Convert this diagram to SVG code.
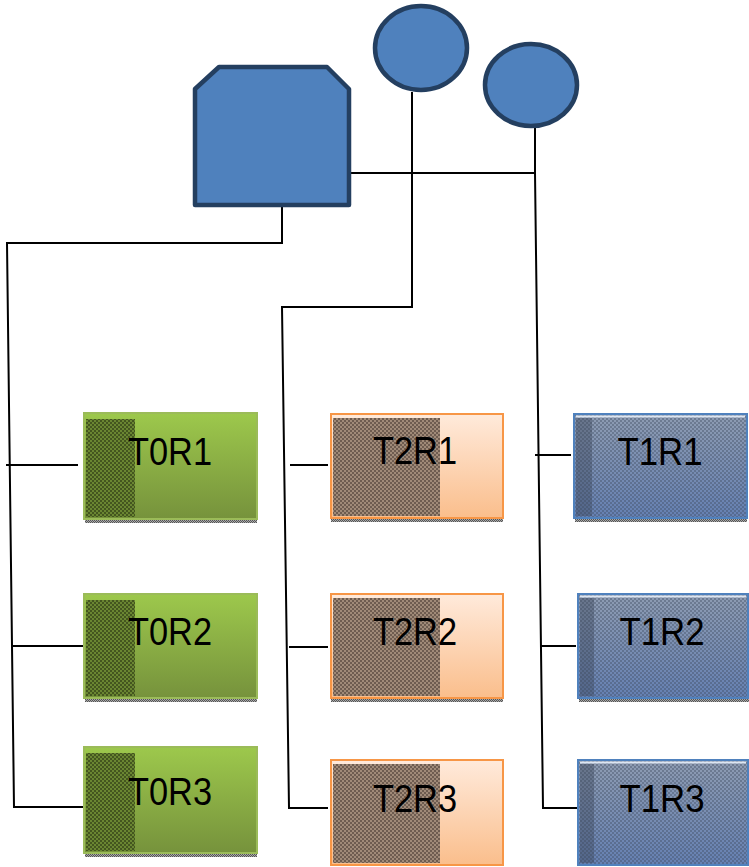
<svg xmlns="http://www.w3.org/2000/svg" width="749" height="867" viewBox="0 0 749 867">
<defs>
<style>
.ln{fill:none;stroke:#000;stroke-width:2}
.lbl{font-family:"Liberation Sans",Arial,sans-serif;font-size:38px;fill:#000;text-anchor:middle}
.g{fill:url(#gGreen);stroke:#9BBB59;stroke-width:2}
.o{fill:url(#gOrange);stroke:#F79646;stroke-width:2}
.shadow{fill:url(#pGrey)}
</style>
<linearGradient id="gGreen" x1="0" y1="0" x2="0" y2="1"><stop offset="0" stop-color="#9DC84C"/><stop offset="1" stop-color="#76923C"/></linearGradient>
<linearGradient id="gOrange" x1="0" y1="0" x2="0" y2="1"><stop offset="0" stop-color="#FFEADB"/><stop offset="1" stop-color="#FABE8C"/></linearGradient>
<linearGradient id="gBlue" x1="0" y1="0" x2="0" y2="1"><stop offset="0" stop-color="#8E9CB2"/><stop offset="1" stop-color="#6580B2"/></linearGradient>
<pattern id="pGreenStrip" width="4" height="4" patternUnits="userSpaceOnUse"><rect width="4" height="4" fill="#6A8632"/><rect width="2" height="2" fill="#44561F"/><rect x="2" y="2" width="2" height="2" fill="#44561F"/></pattern>
<pattern id="pOrangeStrip" width="4" height="4" patternUnits="userSpaceOnUse"><rect width="4" height="4" fill="#A08A78"/><rect width="2" height="2" fill="#6E5C50"/><rect x="2" y="2" width="2" height="2" fill="#6E5C50"/></pattern>
<pattern id="pBlueDots" width="4" height="4" patternUnits="userSpaceOnUse"><rect width="2" height="2" fill="#3E4A5E" fill-opacity="0.4"/><rect x="2" y="2" width="2" height="2" fill="#3E4A5E" fill-opacity="0.4"/></pattern>
<pattern id="pGrey" width="2" height="2" patternUnits="userSpaceOnUse"><rect width="2" height="2" fill="#AAAAAA"/><rect width="1" height="1" fill="#555"/><rect x="1" y="1" width="1" height="1" fill="#555"/></pattern>
</defs>

<g id="connectors">
<polyline class="ln" points="282,207 282,243 7,243 14,807 84,807"/>
<line class="ln" x1="6" y1="465" x2="78" y2="465"/>
<line class="ln" x1="13" y1="646" x2="84" y2="646"/>
<polyline class="ln" points="412,92 412,307 282,307 289,808 328,808"/>
<line class="ln" x1="290" y1="465" x2="328" y2="465"/>
<line class="ln" x1="289" y1="647" x2="328" y2="647"/>
<line class="ln" x1="351" y1="173" x2="536" y2="173"/>
<polyline class="ln" points="535,127 535,173 543,808 578,808"/>
<line class="ln" x1="535" y1="455" x2="571" y2="455"/>
<line class="ln" x1="541" y1="646" x2="576" y2="646"/>
</g>

<g id="server">
<path d="M219,67 L327,67 L349,89 L349,205 L195,205 L195,89 Z" fill="#4F81BD" stroke="#243F60" stroke-width="4.5" stroke-linejoin="round"/>
</g>
<g id="circle1">
<ellipse cx="421" cy="48" rx="46" ry="42" fill="#4F81BD" stroke="#243F60" stroke-width="4.5"/>
</g>
<g id="circle2">
<ellipse cx="531" cy="85" rx="46" ry="41" fill="#4F81BD" stroke="#243F60" stroke-width="4.5"/>
</g>

<g id="T0R1">
<rect class="shadow" x="85" y="519" width="172" height="4"/>
<rect class="g" x="84" y="413" width="173" height="106"/>
<rect x="86" y="419" width="49" height="98" fill="url(#pGreenStrip)"/>
<text class="lbl" x="170" y="465" textLength="84" lengthAdjust="spacingAndGlyphs">T0R1</text>
</g>
<g id="T0R2">
<rect class="shadow" x="85" y="698" width="172" height="4"/>
<rect class="g" x="84" y="594" width="173" height="104"/>
<rect x="86" y="600" width="49" height="96" fill="url(#pGreenStrip)"/>
<text class="lbl" x="170" y="645" textLength="84" lengthAdjust="spacingAndGlyphs">T0R2</text>
</g>
<g id="T0R3">
<rect class="shadow" x="85" y="853" width="172" height="4"/>
<rect class="g" x="84" y="747" width="173" height="106"/>
<rect x="86" y="753" width="49" height="98" fill="url(#pGreenStrip)"/>
<text class="lbl" x="170" y="805" textLength="84" lengthAdjust="spacingAndGlyphs">T0R3</text>
</g>

<g id="T2R1">
<rect class="shadow" x="331" y="518" width="172" height="4"/>
<rect class="o" x="331" y="414" width="172" height="104"/>
<rect x="333" y="418" width="107" height="98" fill="url(#pOrangeStrip)"/>
<text class="lbl" x="415" y="464" textLength="84" lengthAdjust="spacingAndGlyphs">T2R1</text>
</g>
<g id="T2R2">
<rect class="shadow" x="331" y="698" width="172" height="4"/>
<rect class="o" x="331" y="594" width="172" height="104"/>
<rect x="333" y="598" width="107" height="98" fill="url(#pOrangeStrip)"/>
<text class="lbl" x="415" y="645" textLength="84" lengthAdjust="spacingAndGlyphs">T2R2</text>
</g>
<g id="T2R3">
<rect class="o" x="331" y="760" width="172" height="105"/>
<rect x="333" y="764" width="107" height="99" fill="url(#pOrangeStrip)"/>
<text class="lbl" x="415" y="812" textLength="84" lengthAdjust="spacingAndGlyphs">T2R3</text>
</g>

<g id="T1R1">
<rect class="shadow" x="575" y="518" width="172" height="4"/>
<rect x="574" y="414" width="173" height="104" fill="url(#gBlue)" stroke="#4F81BD" stroke-width="2"/>
<rect x="575" y="415" width="171" height="102" fill="url(#pBlueDots)"/>
<rect x="576" y="418" width="16" height="98" fill="#3E4A5E" fill-opacity="0.45"/>
<line x1="576" y1="416.5" x2="745" y2="416.5" stroke="#DDE6F2" stroke-width="2"/>
<text class="lbl" x="660" y="465" textLength="85" lengthAdjust="spacingAndGlyphs">T1R1</text>
</g>
<g id="T1R2">
<rect class="shadow" x="579" y="698" width="170" height="4"/>
<rect x="578" y="594" width="170" height="104" fill="url(#gBlue)" stroke="#4F81BD" stroke-width="2"/>
<rect x="579" y="595" width="168" height="102" fill="url(#pBlueDots)"/>
<rect x="580" y="598" width="14" height="98" fill="#3E4A5E" fill-opacity="0.45"/>
<line x1="580" y1="596.5" x2="746" y2="596.5" stroke="#DDE6F2" stroke-width="2"/>
<text class="lbl" x="662" y="645" textLength="85" lengthAdjust="spacingAndGlyphs">T1R2</text>
</g>
<g id="T1R3">
<rect x="578" y="760" width="170" height="105" fill="url(#gBlue)" stroke="#4F81BD" stroke-width="2"/>
<rect x="579" y="761" width="168" height="103" fill="url(#pBlueDots)"/>
<rect x="580" y="764" width="14" height="99" fill="#3E4A5E" fill-opacity="0.45"/>
<line x1="580" y1="762.5" x2="746" y2="762.5" stroke="#DDE6F2" stroke-width="2"/>
<text class="lbl" x="662" y="812" textLength="85" lengthAdjust="spacingAndGlyphs">T1R3</text>
</g>
</svg>
